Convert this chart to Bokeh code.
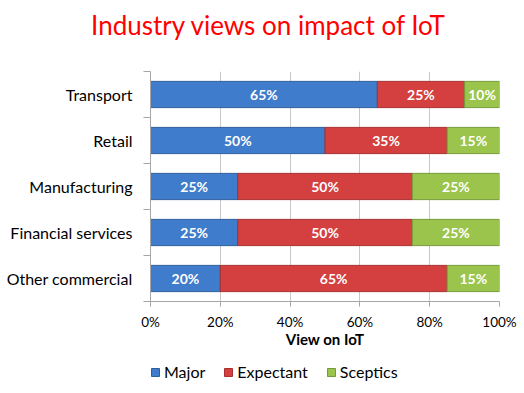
from bokeh.plotting import figure
from bokeh.models import (ColumnDataSource, Range1d, FixedTicker, Legend,
                          LegendItem, Div)
from bokeh.layouts import column
from bokeh.embed import file_html
from bokeh.resources import INLINE
from bokeh.core.properties import value

categories = ["Transport", "Retail", "Manufacturing", "Financial services", "Other commercial"]
major = [65, 50, 25, 25, 20]
expectant = [25, 35, 50, 50, 65]
sceptics = [10, 15, 25, 25, 15]
series_names = ["Major", "Expectant", "Sceptics"]
x_ticks = [0, 20, 40, 60, 80, 100]
x_tick_labels = ["0%", "20%", "40%", "60%", "80%", "100%"]
title_text = "Industry views on impact of IoT"

colors = ["#3F7CCB", "#D43F3F", "#9AC44C"]
edge = ["#2F5E9E", "#A83030", "#76993A"]
FONT = "Lato"
W = 524

n = len(categories)
ypos = [n - 1 - i for i in range(n)]

# ---- header with title ----
head = Div(text=title_text, width=W, height=48,
           styles={"font-family": FONT, "font-size": "26px", "color": "#FF0000",
                   "text-align": "center", "line-height": "40px",
                   "padding-left": "2px", "box-sizing": "border-box",
                   "white-space": "nowrap"})

# ---- main chart ----
p = figure(frame_width=349, frame_height=230, output_backend="svg", toolbar_location=None,
           x_range=Range1d(0, 100), y_range=Range1d(-0.5, n - 0.5),
           min_border_left=150, min_border_right=25, min_border_top=13,
           min_border_bottom=59, title=None)
p.outline_line_color = None

p.xaxis.ticker = FixedTicker(ticks=x_ticks)
p.xaxis.major_label_overrides = {t: l for t, l in zip(x_ticks, x_tick_labels)}
p.xaxis.axis_line_color = "#A6A6A6"
p.xaxis.major_tick_line_color = "#A6A6A6"
p.xaxis.major_tick_out = 5
p.xaxis.major_tick_in = 0
p.xaxis.minor_tick_line_color = None
p.xaxis.major_label_text_font = FONT
p.xaxis.major_label_text_font_size = "13.5px"
p.xaxis.major_label_text_color = "black"
p.xaxis.major_label_standoff = 7
p.xaxis.axis_label = "View on IoT"
p.xaxis.axis_label_text_font = FONT
p.xaxis.axis_label_text_font_style = "bold"
p.xaxis.axis_label_text_font_size = "15px"
p.xaxis.axis_label_text_color = "black"
p.xaxis.axis_label_standoff = -3

p.yaxis.ticker = FixedTicker(ticks=ypos, minor_ticks=[i - 0.5 for i in range(n + 1)])
p.yaxis.major_label_overrides = {y: c for y, c in zip(ypos, categories)}
p.yaxis.axis_line_color = "#A6A6A6"
p.yaxis.major_tick_line_color = None
p.yaxis.major_tick_out = 0
p.yaxis.major_tick_in = 0
p.yaxis.minor_tick_line_color = "#A6A6A6"
p.yaxis.minor_tick_out = 7
p.yaxis.minor_tick_in = 0
p.yaxis.major_label_standoff = 11
p.yaxis.major_label_text_font = FONT
p.yaxis.major_label_text_font_size = "16px"
p.yaxis.major_label_text_color = "black"

p.ygrid.grid_line_color = None
p.xgrid.ticker = FixedTicker(ticks=x_ticks)
p.xgrid.grid_line_color = "#C8C8C8"

vals = [major, expectant, sceptics]
left = [0] * n
for k, v in enumerate(vals):
    right = [l + x for l, x in zip(left, v)]
    src = ColumnDataSource(dict(y=ypos, left=left, right=right,
                                mid=[(l + r) / 2 for l, r in zip(left, right)],
                                txt=[f"{x}%" for x in v]))
    p.hbar(y="y", left="left", right="right", height=0.57, source=src,
           fill_color=colors[k], line_color=edge[k], line_width=1)
    p.text(x="mid", y="y", text="txt", source=src, text_color="white",
           text_font=value(FONT), text_font_style="bold", text_font_size="14px",
           text_align="center", text_baseline="middle")
    left = right

# ---- legend strip ----
foot = figure(width=W, height=31, output_backend="svg", toolbar_location=None,
              x_range=Range1d(0, 1), y_range=Range1d(0, 1),
              x_axis_location=None, y_axis_location=None, min_border=0)
foot.outline_line_color = None
foot.grid.grid_line_color = None
items = []
for k, s in enumerate(series_names):
    r = foot.hbar(y=[-10], left=[0], right=[1], height=1,
                  fill_color=colors[k], line_color=edge[k], line_width=1)
    items.append(LegendItem(label=s, renderers=[r]))
legend = Legend(items=items, orientation="horizontal", location=(0, 10),
                glyph_width=10, glyph_height=10, label_standoff=4, spacing=18,
                padding=0, margin=0, border_line_color=None,
                background_fill_alpha=0, label_text_font=FONT,
                label_text_font_size="16px", label_text_color="black")
foot.add_layout(legend, "center")

layout = column(head, p, foot, spacing=0)
open("out.html", "w").write(file_html(layout, INLINE))
